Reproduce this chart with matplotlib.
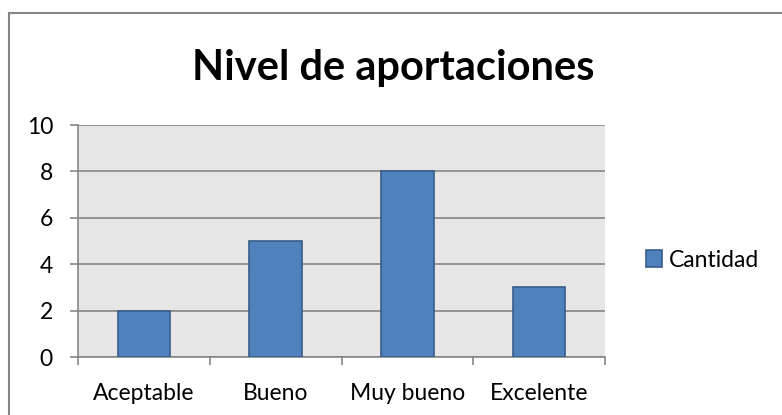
import matplotlib.pyplot as plt
from matplotlib.patches import Rectangle

categories = ['Aceptable', 'Bueno', 'Muy bueno', 'Excelente']
cantidad = [2, 5, 8, 3]
y_ticks = [0, 2, 4, 6, 8, 10]

plt.rcParams['font.family'] = ['Lato', 'DejaVu Sans']

W, H = 782, 415
fig = plt.figure(figsize=(W / 100, H / 100), dpi=100)

# plot area in pixels: left 78, right 605, top 125, bottom 357
ax = fig.add_axes([78 / W, 1 - 357 / H, (605 - 78) / W, (357 - 125) / H])
ax.set_facecolor('#e6e6e6')

x = range(len(categories))
ax.bar(x, cantidad, width=0.4, color='#4f81bd', edgecolor='#385d8a',
       linewidth=1.2, label='Cantidad', zorder=3)

ax.set_xlim(-0.5, len(categories) - 0.5)
ax.set_ylim(0, 10)
ax.set_yticks(y_ticks)
ax.set_yticklabels([str(v) for v in y_ticks], fontsize=16.5)
ax.yaxis.grid(True, color='#868686', linewidth=1.2, zorder=1)
ax.set_axisbelow(True)

ax.set_xticks([i for i in x])
ax.set_xticklabels(categories, fontsize=16.5)
ax.tick_params(axis='x', length=0, pad=19)
ax.set_xticks([i - 0.5 for i in range(len(categories) + 1)], minor=True)
ax.tick_params(axis='x', which='minor', length=6, color='#868686', width=1.2)
ax.tick_params(axis='y', length=6, color='#868686', width=1.2, pad=12)

for s in ['top', 'right']:
    ax.spines[s].set_visible(False)
for s in ['left', 'bottom']:
    ax.spines[s].set_color('#868686')
    ax.spines[s].set_linewidth(1.2)

fig.text(393 / W, 1 - 68 / H, 'Nivel de aportaciones', ha='center', va='center',
         fontsize=30, fontweight='bold')

leg = fig.legend(loc='center left', bbox_to_anchor=(646 / W, 1 - 260 / H),
                 frameon=False, fontsize=16.5, handlelength=0.7, handleheight=0.7,
                 handletextpad=0.3, borderaxespad=0, borderpad=0)

fig.patches.append(Rectangle((8.5 / W, -0.05), 1.0, 1 - 13 / H + 0.05,
                             transform=fig.transFigure, fill=False,
                             edgecolor='#868686', linewidth=1.5))

fig.savefig('out.png', dpi=100)
